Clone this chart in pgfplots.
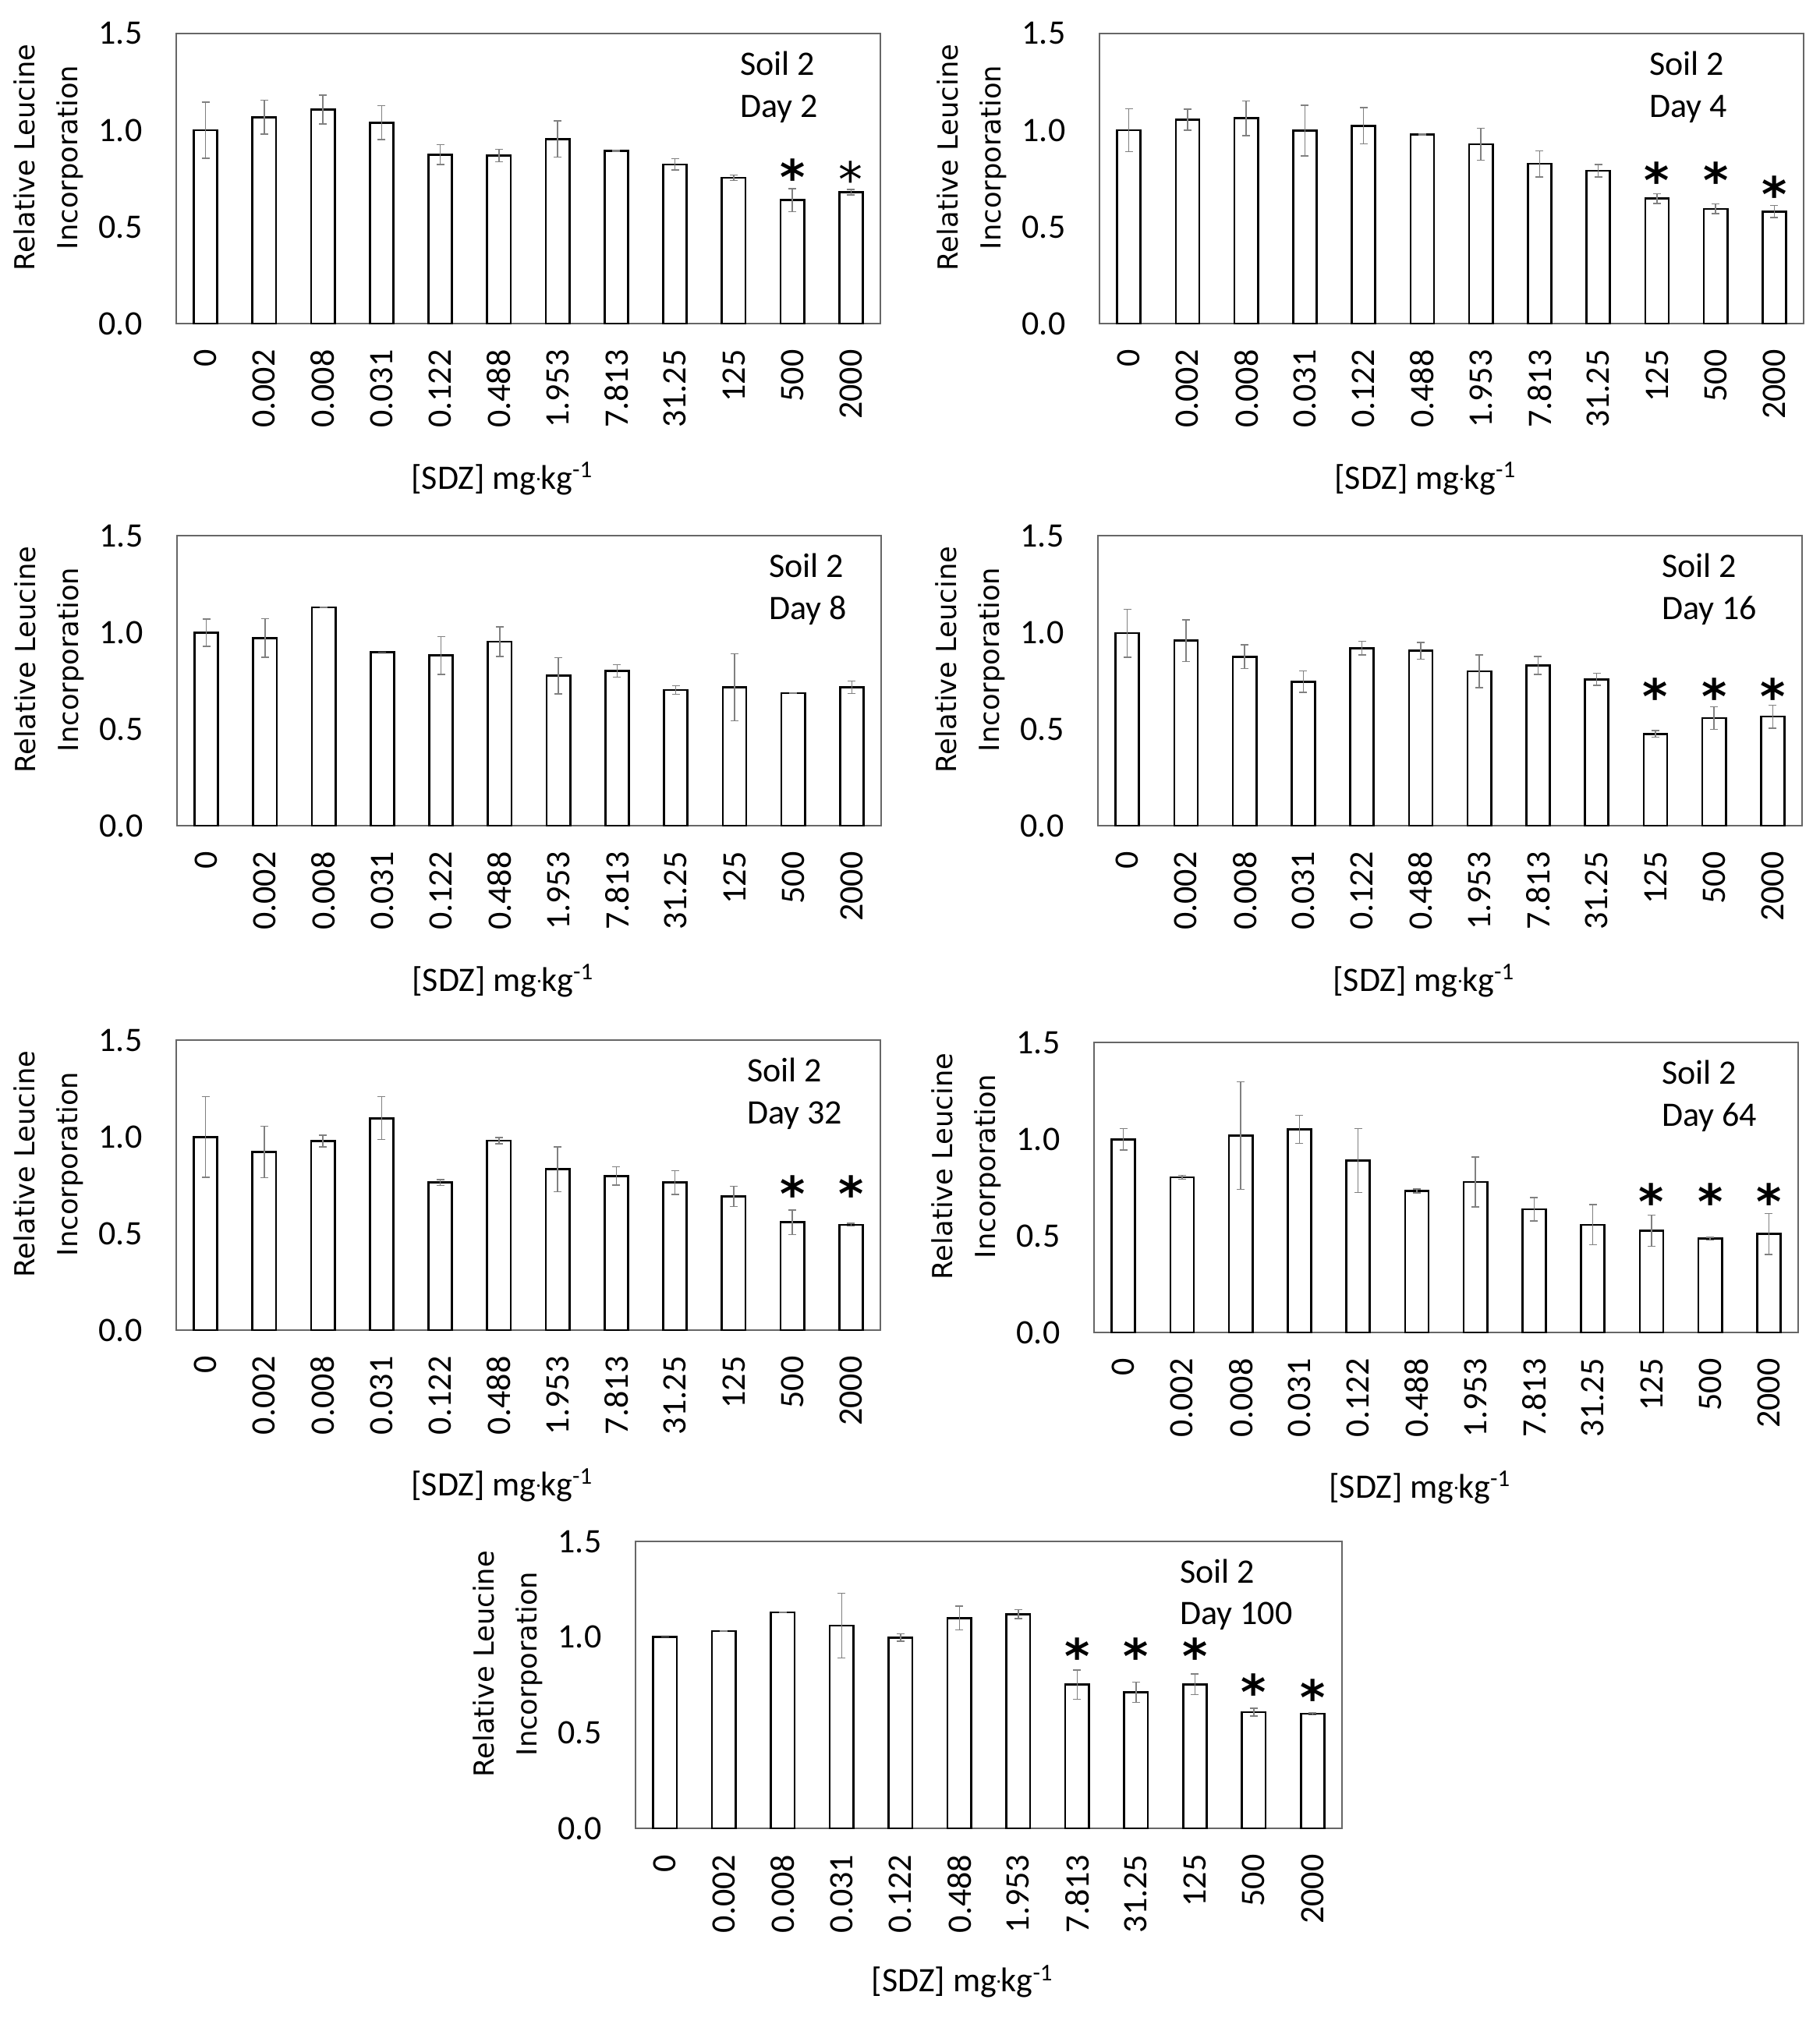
\documentclass[border=0pt]{standalone}
\usepackage{fontspec}
\setmainfont{Carlito}
\newfontfamily\dejavu{DejaVu Sans}
\usepackage{pgfplots}
\usepackage{pgfplotstable}
\pgfplotsset{compat=1.18}

\newcommand\ticfont{\fontsize{13.2}{15.8}\selectfont}
\newcommand\labfont{\dejavu\fontsize{10.6}{16.5}\selectfont}
\newcommand\astfont{\dejavu\bfseries\fontsize{18.5}{18.5}\selectfont}
\newcommand\astfontn{\dejavu\fontsize{18.5}{18.5}\selectfont}
\newcommand\smalldot{\raisebox{1.8pt}{\fontsize{7}{7}\selectfont·}}

\pgfplotstableread{
x y e
0 1.000 0.145
1 1.067 0.088
2 1.107 0.075
3 1.039 0.088
4 0.874 0.052
5 0.869 0.033
6 0.954 0.094
7 0.892 0.003
8 0.823 0.029
9 0.754 0.015
10 0.638 0.059
11 0.680 0.014
}\dataA
\pgfplotstableread{
x y e
0 1.000 0.110
1 1.054 0.054
2 1.062 0.090
3 0.998 0.132
4 1.023 0.094
5 0.979 0.003
6 0.928 0.083
7 0.826 0.068
8 0.790 0.032
9 0.646 0.025
10 0.593 0.025
11 0.580 0.031
}\dataB
\pgfplotstableread{
x y e
0 0.998 0.070
1 0.971 0.100
2 1.129 0.0
3 0.897 0.0
4 0.880 0.098
5 0.952 0.077
6 0.776 0.094
7 0.800 0.032
8 0.702 0.022
9 0.716 0.174
10 0.686 0.0
11 0.716 0.032
}\dataC
\pgfplotstableread{
x y e
0 0.996 0.124
1 0.957 0.108
2 0.874 0.062
3 0.745 0.055
4 0.918 0.035
5 0.904 0.044
6 0.798 0.085
7 0.829 0.047
8 0.757 0.031
9 0.475 0.018
10 0.556 0.058
11 0.564 0.060
}\dataD
\pgfplotstableread{
x y e
0 0.999 0.208
1 0.921 0.133
2 0.978 0.031
3 1.096 0.111
4 0.763 0.015
5 0.980 0.017
6 0.832 0.116
7 0.797 0.047
8 0.763 0.062
9 0.692 0.053
10 0.558 0.063
11 0.545 0.007
}\dataE
\pgfplotstableread{
x y e
0 0.999 0.055
1 0.803 0.010
2 1.018 0.278
3 1.051 0.073
4 0.889 0.166
5 0.732 0.010
6 0.779 0.129
7 0.637 0.061
8 0.557 0.104
9 0.526 0.080
10 0.485 0.008
11 0.509 0.106
}\dataF
\pgfplotstableread{
x y e
0 1.001 0.0
1 1.032 0.0
2 1.129 0.0
3 1.060 0.170
4 0.998 0.020
5 1.099 0.062
6 1.120 0.024
7 0.751 0.077
8 0.711 0.053
9 0.753 0.054
10 0.607 0.020
11 0.599 0.005
}\dataG

\pgfplotsset{
  panel/.style={
    scale only axis, width=270.9pt, height=111.6pt,
    anchor=south west,
    xmin=-0.5, xmax=11.5, ymin=0, ymax=1.5,
    xtick={0,...,11},
    xticklabels={0,0.002,0.008,0.031,0.122,0.488,1.953,7.813,31.25,125,500,2000},
    ytick={0,0.5,1,1.5}, yticklabels={0.0,0.5,1.0,1.5},
    major tick length=0pt,
    tick style={draw=none},
    axis line style={draw=black!60, line width=0.5pt},
    ticklabel style={font=\ticfont, inner ysep=0pt},
    xticklabel style={rotate=90, anchor=east, inner xsep=9.9pt},
    yticklabel style={anchor=east, inner xsep=12.9pt},
    xlabel={[SDZ] mg\smalldot kg\textsuperscript{-1}},
    xlabel style={at={(axis description cs:0.463,-0.570)}, anchor=base, font=\ticfont, inner sep=0pt},
    ylabel={Relative Leucine\\Incorporation},
    ylabel style={at={(axis description cs:-0.181,0.573)}, anchor=center, align=center, font=\labfont, inner sep=0pt},
  },
  bars/.style={ybar, bar width=0.4, draw=black, fill=white, line width=0.8pt,
    error bars/.cd, y dir=both, y explicit,
    error bar style={line width=0.45pt, draw=black!50},
    error mark options={rotate=90, mark size=1.5pt, line width=0.45pt, draw=black!50}},
}
\newcommand\soiltag[2]{%
  \node[anchor=base west, font=\ticfont, inner sep=0pt] at (axis description cs:#1,0.855) {Soil 2};
  \node[anchor=base west, font=\ticfont, inner sep=0pt] at (axis description cs:#1,0.710) {#2};}

\begin{document}
\begin{tikzpicture}
\useasboundingbox (0,0) rectangle (700.2pt,-776.1pt);

% Panel 1
\begin{axis}[panel, at={(67.8pt,-124.5pt)}]
\addplot[bars] table[x=x, y=y, y error=e] {\dataA};
\addplot[only marks, mark=text, text mark={\astfont *}, text mark as node=true, text mark style={inner sep=0pt, anchor=center, yshift=-3.5pt}] coordinates {(10,0.806)};
\addplot[only marks, mark=text, text mark={\astfontn *}, text mark as node=true, text mark style={inner sep=0pt, anchor=center, yshift=-3.5pt}] coordinates {(11,0.796)};
\soiltag{0.80}{Day 2}
\end{axis}

% Panel 2
\begin{axis}[panel, at={(423.0pt,-124.5pt)}]
\addplot[bars] table[x=x, y=y, y error=e] {\dataB};
\addplot[only marks, mark=text, text mark={\astfont *}, text mark as node=true, text mark style={inner sep=0pt, anchor=center, yshift=-3.5pt}] coordinates {(9,0.79) (10,0.79) (11,0.716)};
\soiltag{0.78}{Day 4}
\end{axis}

% Panel 3
\begin{axis}[panel, at={(68.1pt,-317.7pt)}]
\addplot[bars] table[x=x, y=y, y error=e] {\dataC};
\soiltag{0.84}{Day 8}
\end{axis}

% Panel 4
\begin{axis}[panel, at={(422.4pt,-317.7pt)}]
\addplot[bars] table[x=x, y=y, y error=e] {\dataD};
\addplot[only marks, mark=text, text mark={\astfont *}, text mark as node=true, text mark style={inner sep=0pt, anchor=center, yshift=-3.5pt}] coordinates {(9,0.718) (10,0.718) (11,0.718)};
\soiltag{0.80}{Day 16}
\end{axis}

% Panel 5
\begin{axis}[panel, at={(67.8pt,-511.8pt)}]
\addplot[bars] table[x=x, y=y, y error=e] {\dataE};
\addplot[only marks, mark=text, text mark={\astfont *}, text mark as node=true, text mark style={inner sep=0pt, anchor=center, yshift=-3.5pt}] coordinates {(10,0.753) (11,0.753)};
\soiltag{0.81}{Day 32}
\end{axis}

% Panel 6
\begin{axis}[panel, at={(420.9pt,-512.7pt)}]
\addplot[bars] table[x=x, y=y, y error=e] {\dataF};
\addplot[only marks, mark=text, text mark={\astfont *}, text mark as node=true, text mark style={inner sep=0pt, anchor=center, yshift=-3.5pt}] coordinates {(9,0.728) (10,0.728) (11,0.728)};
\soiltag{0.806}{Day 64}
\end{axis}

% Panel 7
\begin{axis}[panel, at={(244.5pt,-703.5pt)}, width=271.8pt, height=110.4pt]
\addplot[bars] table[x=x, y=y, y error=e] {\dataG};
\addplot[only marks, mark=text, text mark={\astfont *}, text mark as node=true, text mark style={inner sep=0pt, anchor=center, yshift=-3.5pt}] coordinates {(7,0.951) (8,0.951) (9,0.951) (10,0.762) (11,0.735)};
\soiltag{0.77}{Day 100}
\end{axis}
\end{tikzpicture}
\end{document}
